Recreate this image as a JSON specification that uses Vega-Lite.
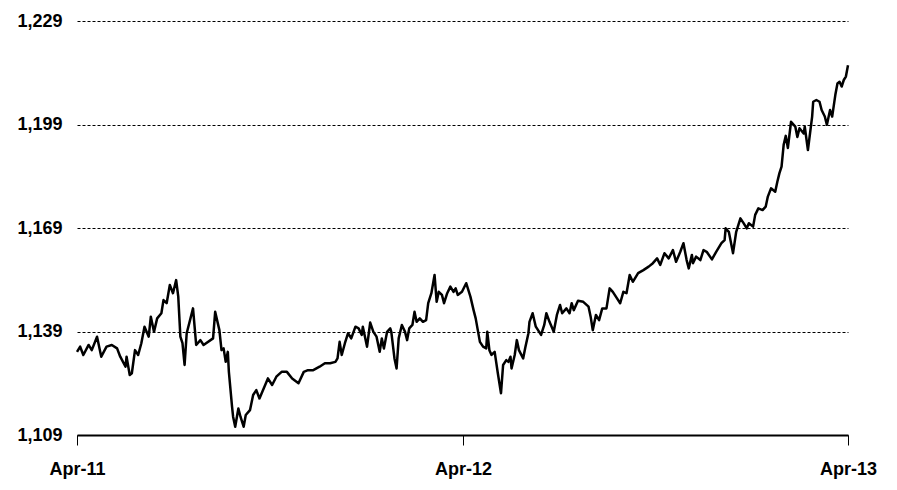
{
  "$schema": "https://vega.github.io/schema/vega-lite/v6.json",
  "autosize": "none",
  "width": 771,
  "height": 414,
  "padding": {"left": 77, "top": 21, "right": 49, "bottom": 55},
  "background": "white",
  "config": {
    "view": {"stroke": null},
    "font": "Liberation Sans",
    "axis": {"labelFont": "Liberation Sans", "labelFontWeight": "bold", "labelColor": "black", "labelFontSize": 18}
  },
  "data": {"values": [
    {"date": "2011-04-01", "v": 1133.1}, {"date": "2011-04-04", "v": 1134.6}, {"date": "2011-04-07", "v": 1132.2},
    {"date": "2011-04-12", "v": 1135.1}, {"date": "2011-04-15", "v": 1133.6}, {"date": "2011-04-20", "v": 1137.5},
    {"date": "2011-04-24", "v": 1131.7}, {"date": "2011-04-29", "v": 1134.6}, {"date": "2011-05-04", "v": 1135.1},
    {"date": "2011-05-09", "v": 1134.1}, {"date": "2011-05-12", "v": 1131.7}, {"date": "2011-05-17", "v": 1128.8},
    {"date": "2011-05-18", "v": 1131.7}, {"date": "2011-05-21", "v": 1126.4}, {"date": "2011-05-23", "v": 1126.9},
    {"date": "2011-05-26", "v": 1133.6}, {"date": "2011-05-29", "v": 1132.2}, {"date": "2011-06-01", "v": 1135.6},
    {"date": "2011-06-04", "v": 1140.4}, {"date": "2011-06-08", "v": 1137.5}, {"date": "2011-06-10", "v": 1143.3},
    {"date": "2011-06-13", "v": 1138.9}, {"date": "2011-06-16", "v": 1142.8}, {"date": "2011-06-20", "v": 1144.3},
    {"date": "2011-06-22", "v": 1148.1}, {"date": "2011-06-25", "v": 1147.2}, {"date": "2011-06-28", "v": 1152.5},
    {"date": "2011-07-01", "v": 1150.1}, {"date": "2011-07-04", "v": 1153.9}, {"date": "2011-07-06", "v": 1149.1},
    {"date": "2011-07-08", "v": 1137.5}, {"date": "2011-07-10", "v": 1135.6}, {"date": "2011-07-12", "v": 1129.3},
    {"date": "2011-07-14", "v": 1138.5}, {"date": "2011-07-20", "v": 1145.7}, {"date": "2011-07-23", "v": 1135.1},
    {"date": "2011-07-27", "v": 1136.5}, {"date": "2011-07-30", "v": 1135.1}, {"date": "2011-08-08", "v": 1137.0},
    {"date": "2011-08-10", "v": 1144.7}, {"date": "2011-08-14", "v": 1139.4}, {"date": "2011-08-16", "v": 1133.6},
    {"date": "2011-08-18", "v": 1134.1}, {"date": "2011-08-20", "v": 1130.2}, {"date": "2011-08-22", "v": 1133.1},
    {"date": "2011-08-23", "v": 1127.3}, {"date": "2011-08-26", "v": 1117.2}, {"date": "2011-08-27", "v": 1114.3},
    {"date": "2011-08-29", "v": 1111.4}, {"date": "2011-09-01", "v": 1116.7}, {"date": "2011-09-03", "v": 1114.3},
    {"date": "2011-09-06", "v": 1111.4}, {"date": "2011-09-08", "v": 1114.8}, {"date": "2011-09-12", "v": 1116.2},
    {"date": "2011-09-15", "v": 1120.6}, {"date": "2011-09-18", "v": 1122.0}, {"date": "2011-09-21", "v": 1119.6},
    {"date": "2011-09-25", "v": 1122.5}, {"date": "2011-09-29", "v": 1125.4}, {"date": "2011-10-03", "v": 1123.5},
    {"date": "2011-10-07", "v": 1125.9}, {"date": "2011-10-12", "v": 1127.3}, {"date": "2011-10-17", "v": 1127.3},
    {"date": "2011-10-22", "v": 1125.4}, {"date": "2011-10-28", "v": 1124.0}, {"date": "2011-11-02", "v": 1127.3},
    {"date": "2011-11-06", "v": 1127.8}, {"date": "2011-11-11", "v": 1127.8}, {"date": "2011-11-17", "v": 1128.8},
    {"date": "2011-11-22", "v": 1129.8}, {"date": "2011-11-27", "v": 1129.8}, {"date": "2011-12-02", "v": 1130.2},
    {"date": "2011-12-04", "v": 1131.2}, {"date": "2011-12-06", "v": 1136.0}, {"date": "2011-12-08", "v": 1132.2},
    {"date": "2011-12-11", "v": 1135.6}, {"date": "2011-12-14", "v": 1138.5}, {"date": "2011-12-17", "v": 1137.0},
    {"date": "2011-12-21", "v": 1140.4}, {"date": "2011-12-24", "v": 1139.9}, {"date": "2011-12-27", "v": 1138.0},
    {"date": "2011-12-28", "v": 1140.4}, {"date": "2012-01-01", "v": 1134.6}, {"date": "2012-01-04", "v": 1141.6},
    {"date": "2012-01-07", "v": 1138.9}, {"date": "2012-01-10", "v": 1137.5}, {"date": "2012-01-13", "v": 1133.1},
    {"date": "2012-01-15", "v": 1137.0}, {"date": "2012-01-17", "v": 1134.1}, {"date": "2012-01-20", "v": 1138.9},
    {"date": "2012-01-23", "v": 1139.9}, {"date": "2012-01-24", "v": 1138.9}, {"date": "2012-01-27", "v": 1131.2},
    {"date": "2012-01-29", "v": 1128.3}, {"date": "2012-01-31", "v": 1137.0}, {"date": "2012-02-03", "v": 1140.9},
    {"date": "2012-02-06", "v": 1138.9}, {"date": "2012-02-08", "v": 1136.5}, {"date": "2012-02-10", "v": 1139.9},
    {"date": "2012-02-13", "v": 1140.9}, {"date": "2012-02-15", "v": 1144.7}, {"date": "2012-02-17", "v": 1141.8},
    {"date": "2012-02-20", "v": 1142.8}, {"date": "2012-02-23", "v": 1141.8}, {"date": "2012-02-26", "v": 1142.3},
    {"date": "2012-02-28", "v": 1147.2}, {"date": "2012-03-02", "v": 1150.1}, {"date": "2012-03-05", "v": 1155.4},
    {"date": "2012-03-07", "v": 1147.6}, {"date": "2012-03-09", "v": 1150.5}, {"date": "2012-03-12", "v": 1149.6},
    {"date": "2012-03-14", "v": 1147.2}, {"date": "2012-03-17", "v": 1150.1}, {"date": "2012-03-20", "v": 1152.0},
    {"date": "2012-03-23", "v": 1150.5}, {"date": "2012-03-25", "v": 1151.5}, {"date": "2012-03-27", "v": 1149.6},
    {"date": "2012-03-31", "v": 1150.5}, {"date": "2012-04-04", "v": 1153.0}, {"date": "2012-04-08", "v": 1149.1},
    {"date": "2012-04-11", "v": 1145.2}, {"date": "2012-04-13", "v": 1142.8}, {"date": "2012-04-15", "v": 1139.4},
    {"date": "2012-04-17", "v": 1136.0}, {"date": "2012-04-20", "v": 1134.6}, {"date": "2012-04-23", "v": 1134.1},
    {"date": "2012-04-24", "v": 1138.9}, {"date": "2012-04-26", "v": 1133.6}, {"date": "2012-04-28", "v": 1132.2},
    {"date": "2012-05-01", "v": 1133.1}, {"date": "2012-05-04", "v": 1126.9}, {"date": "2012-05-07", "v": 1121.1},
    {"date": "2012-05-09", "v": 1129.3}, {"date": "2012-05-12", "v": 1130.7}, {"date": "2012-05-14", "v": 1130.2},
    {"date": "2012-05-16", "v": 1131.7}, {"date": "2012-05-17", "v": 1128.3}, {"date": "2012-05-20", "v": 1132.2},
    {"date": "2012-05-22", "v": 1136.5}, {"date": "2012-05-24", "v": 1133.6}, {"date": "2012-05-28", "v": 1131.2},
    {"date": "2012-05-30", "v": 1134.3}, {"date": "2012-06-02", "v": 1138.5}, {"date": "2012-06-03", "v": 1141.8},
    {"date": "2012-06-06", "v": 1144.3}, {"date": "2012-06-09", "v": 1140.4}, {"date": "2012-06-14", "v": 1138.0},
    {"date": "2012-06-17", "v": 1140.9}, {"date": "2012-06-19", "v": 1144.3}, {"date": "2012-06-22", "v": 1141.8},
    {"date": "2012-06-26", "v": 1138.9}, {"date": "2012-06-29", "v": 1143.8}, {"date": "2012-07-02", "v": 1146.7},
    {"date": "2012-07-04", "v": 1144.3}, {"date": "2012-07-08", "v": 1145.7}, {"date": "2012-07-11", "v": 1144.3},
    {"date": "2012-07-13", "v": 1147.2}, {"date": "2012-07-15", "v": 1145.2}, {"date": "2012-07-19", "v": 1147.9},
    {"date": "2012-07-24", "v": 1147.6}, {"date": "2012-07-29", "v": 1146.2}, {"date": "2012-07-31", "v": 1143.3},
    {"date": "2012-08-02", "v": 1139.4}, {"date": "2012-08-05", "v": 1143.8}, {"date": "2012-08-08", "v": 1142.3},
    {"date": "2012-08-11", "v": 1145.7}, {"date": "2012-08-15", "v": 1145.7}, {"date": "2012-08-18", "v": 1151.5},
    {"date": "2012-08-21", "v": 1150.5}, {"date": "2012-08-25", "v": 1148.6}, {"date": "2012-08-28", "v": 1147.2},
    {"date": "2012-08-31", "v": 1150.5}, {"date": "2012-09-03", "v": 1150.1}, {"date": "2012-09-06", "v": 1155.4},
    {"date": "2012-09-09", "v": 1153.4}, {"date": "2012-09-14", "v": 1155.9}, {"date": "2012-09-19", "v": 1156.8},
    {"date": "2012-09-24", "v": 1157.8}, {"date": "2012-09-28", "v": 1158.8}, {"date": "2012-10-02", "v": 1160.2},
    {"date": "2012-10-05", "v": 1158.3}, {"date": "2012-10-09", "v": 1161.7}, {"date": "2012-10-13", "v": 1160.2},
    {"date": "2012-10-17", "v": 1162.6}, {"date": "2012-10-20", "v": 1159.2}, {"date": "2012-10-24", "v": 1162.1},
    {"date": "2012-10-27", "v": 1164.6}, {"date": "2012-10-30", "v": 1159.7}, {"date": "2012-11-01", "v": 1157.3},
    {"date": "2012-11-04", "v": 1161.2}, {"date": "2012-11-05", "v": 1158.8}, {"date": "2012-11-08", "v": 1160.7},
    {"date": "2012-11-12", "v": 1159.7}, {"date": "2012-11-15", "v": 1162.6}, {"date": "2012-11-18", "v": 1162.1},
    {"date": "2012-11-23", "v": 1159.9}, {"date": "2012-11-27", "v": 1162.1}, {"date": "2012-12-02", "v": 1164.6},
    {"date": "2012-12-05", "v": 1165.5}, {"date": "2012-12-06", "v": 1168.9}, {"date": "2012-12-09", "v": 1167.9},
    {"date": "2012-12-13", "v": 1161.7}, {"date": "2012-12-16", "v": 1167.9}, {"date": "2012-12-20", "v": 1171.8},
    {"date": "2012-12-23", "v": 1170.4}, {"date": "2012-12-26", "v": 1168.9}, {"date": "2012-12-28", "v": 1170.4},
    {"date": "2013-01-01", "v": 1169.4}, {"date": "2013-01-03", "v": 1172.8}, {"date": "2013-01-06", "v": 1174.7},
    {"date": "2013-01-10", "v": 1174.2}, {"date": "2013-01-13", "v": 1175.2}, {"date": "2013-01-15", "v": 1178.1},
    {"date": "2013-01-18", "v": 1180.5}, {"date": "2013-01-22", "v": 1179.5}, {"date": "2013-01-24", "v": 1182.4},
    {"date": "2013-01-26", "v": 1184.9}, {"date": "2013-01-28", "v": 1186.8}, {"date": "2013-01-30", "v": 1193.1},
    {"date": "2013-02-01", "v": 1195.7}, {"date": "2013-02-03", "v": 1192.2}, {"date": "2013-02-06", "v": 1199.8},
    {"date": "2013-02-10", "v": 1198.4}, {"date": "2013-02-12", "v": 1195.4}, {"date": "2013-02-14", "v": 1197.9},
    {"date": "2013-02-18", "v": 1196.4}, {"date": "2013-02-19", "v": 1198.4}, {"date": "2013-02-22", "v": 1191.6},
    {"date": "2013-02-26", "v": 1201.3}, {"date": "2013-02-27", "v": 1205.6}, {"date": "2013-03-02", "v": 1206.1},
    {"date": "2013-03-05", "v": 1205.6}, {"date": "2013-03-07", "v": 1203.2}, {"date": "2013-03-10", "v": 1201.3},
    {"date": "2013-03-12", "v": 1198.9}, {"date": "2013-03-15", "v": 1203.2}, {"date": "2013-03-17", "v": 1201.3},
    {"date": "2013-03-20", "v": 1207.6}, {"date": "2013-03-22", "v": 1210.9}, {"date": "2013-03-24", "v": 1211.4},
    {"date": "2013-03-26", "v": 1210.0}, {"date": "2013-03-28", "v": 1211.9}, {"date": "2013-03-30", "v": 1212.9},
    {"date": "2013-04-01", "v": 1216.2}
  ]},
  "mark": {"type": "line", "color": "black", "strokeWidth": 2.5, "strokeJoin": "round"},
  "encoding": {
    "x": {
      "field": "date", "type": "temporal",
      "scale": {"type": "utc", "domain": [{"year": 2011, "month": 4, "date": 1, "utc": true}, {"year": 2013, "month": 4, "date": 1, "utc": true}]},
      "axis": {
        "title": null,
        "values": [{"year": 2011, "month": 4, "date": 1, "utc": true}, {"year": 2012, "month": 4, "date": 1, "utc": true}, {"year": 2013, "month": 4, "date": 1, "utc": true}],
        "labelExpr": "utcFormat(datum.value, '%b-%y')",
        "grid": false,
        "domainColor": "black", "domainWidth": 2,
        "tickColor": "black", "tickWidth": 1, "tickSize": 10,
        "labelPadding": 15, "labelFlush": false, "labelOverlap": false
      }
    },
    "y": {
      "field": "v", "type": "quantitative",
      "scale": {"domain": [1109, 1229], "nice": false, "zero": false},
      "axis": {
        "title": null,
        "values": [1109, 1139, 1169, 1199, 1229],
        "format": ",d",
        "domain": false, "ticks": false,
        "grid": true, "gridColor": "black", "gridWidth": 1, "gridDash": [3, 2], "gridOpacity": 1,
        "labelPadding": 15
      }
    }
  }
}
